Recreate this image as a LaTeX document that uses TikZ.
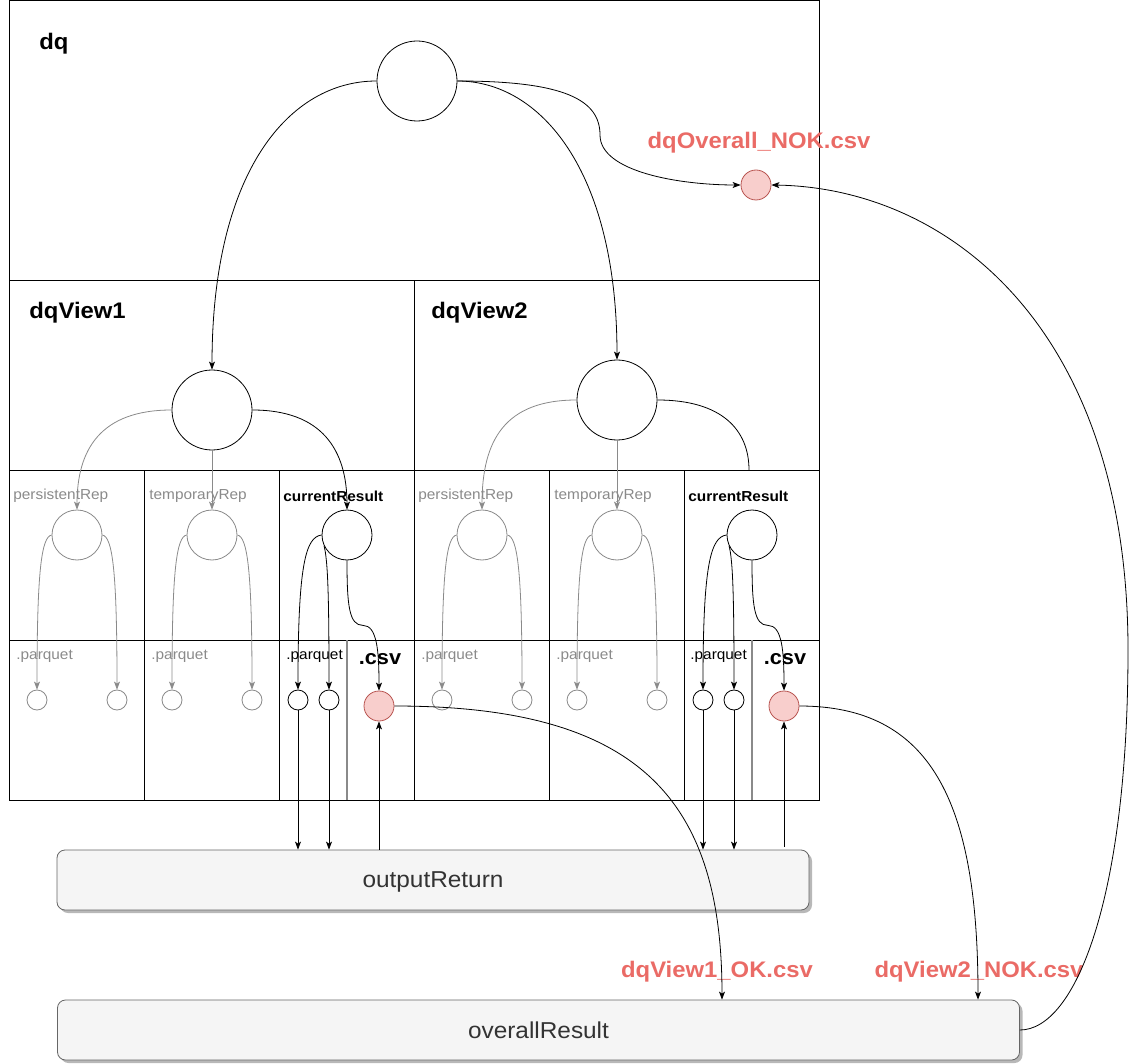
\documentclass[tikz,border=0pt]{standalone}
\usepackage{fontspec}
\setmainfont[FakeStretch=1.06]{Liberation Sans}
\usetikzlibrary{arrows.meta,shadows}
\definecolor{redtxt}{HTML}{EA6B66}
\definecolor{redfill}{HTML}{F8CECC}
\definecolor{redline}{HTML}{B85450}
\definecolor{greyc}{HTML}{8A8A8A}
\definecolor{boxfill}{HTML}{F5F5F5}
\definecolor{boxline}{HTML}{666666}
\definecolor{boxtxt}{HTML}{333333}
\begin{document}
\begin{tikzpicture}[x=1pt,y=-1pt,line width=0.8pt,
  >={Stealth[length=8pt,width=6pt,inset=2pt]},
  title/.style={font=\fontsize{22.5}{26}\selectfont\bfseries,anchor=west,inner sep=0pt},
  smalltxt/.style={font=\fontsize{14.5}{17}\selectfont,anchor=west,inner sep=0pt},
  greytxt/.style={smalltxt,text=greyc},
  boldsmall/.style={smalltxt,font=\fontsize{14.5}{17}\selectfont\bfseries},
  csvtxt/.style={font=\fontsize{20.5}{24}\selectfont\bfseries,inner sep=0pt},
  redlabel/.style={font=\fontsize{22.5}{26}\selectfont\bfseries,text=redtxt,inner sep=0pt},
  bigc/.style={circle,draw,minimum size=80pt,inner sep=0pt},
  midc/.style={circle,draw,minimum size=50pt,inner sep=0pt},
  midg/.style={midc,draw=greyc},
  tinyc/.style={circle,draw,minimum size=20pt,inner sep=0pt},
  tinyg/.style={tinyc,draw=greyc},
  redc/.style={circle,draw=redline,fill=redfill,minimum size=30pt,inner sep=0pt},
  gline/.style={draw=greyc},
  resultbox/.style={rounded corners=8pt,draw=boxline,fill=boxfill,minimum height=60pt,
     text=boxtxt,font=\fontsize{23}{27}\selectfont,text depth=0pt,
     drop shadow={shadow xshift=3pt,shadow yshift=-3pt,fill=black!28,opacity=1}}
]
\useasboundingbox (0,0) rectangle (1130,1064);

% containers
\draw (9,0.5) rectangle (819,280);
\draw (9,280) rectangle (414,470);
\draw (414,280) rectangle (819,470);
\foreach \xx in {9,144,279,414,549,684}{
  \draw (\xx,470) rectangle (\xx+135,640);
  \draw (\xx,640) rectangle (\xx+135,800);
}
\draw[gline,line width=1.4pt] (347,640) -- (347,800);
\draw[gline,line width=1.4pt] (752,640) -- (752,800);

% titles
\node[title] (ldq) at (39,44) {dq};
\node[title] (lv1) at (29,313) {dqView1};
\node[title] (lv2) at (431,313) {dqView2};

\node[greytxt] (lp1) at (13,496) {persistentRep};
\node[greytxt] (lt1) at (149,496) {temporaryRep};
\node[boldsmall] (lc1) at (283,496) {currentResult};
\node[greytxt] (lp2) at (418,496) {persistentRep};
\node[greytxt] (lt2) at (554,496) {temporaryRep};
\node[boldsmall] (lc2) at (688,496) {currentResult};

\node[greytxt] (lq1) at (16,656) {.parquet};
\node[greytxt] (lq2) at (151,656) {.parquet};
\node[smalltxt] (lq3) at (286,656) {.parquet};
\node[greytxt] (lq4) at (421,656) {.parquet};
\node[greytxt] (lq5) at (556,656) {.parquet};
\node[smalltxt] (lq6) at (690,656) {.parquet};
\node[csvtxt] (lcsv1) at (380,659) {.csv};
\node[csvtxt] (lcsv2) at (785,659) {.csv};

\node[redlabel] (lov) at (759,143) {dqOverall\_NOK.csv};
\node[redlabel] (lok1) at (717,972) {dqView1\_OK.csv};
\node[redlabel] (lnok2) at (979,972) {dqView2\_NOK.csv};

% circles
\node[bigc] (T) at (417,81) {};
\node[bigc] (V1) at (212,410) {};
\node[bigc] (V2) at (617,400) {};
\node[redc] (OV) at (756,185) {};

\node[midg] (p1) at (77,535) {};
\node[midg] (t1) at (212,535) {};
\node[midc] (c1) at (347,535) {};
\node[midg] (p2) at (482,535) {};
\node[midg] (t2) at (617,535) {};
\node[midc] (c2) at (752,535) {};

\node[tinyg] (p1a) at (37,700) {};
\node[tinyg] (p1b) at (117,700) {};
\node[tinyg] (t1a) at (172,700) {};
\node[tinyg] (t1b) at (252,700) {};
\node[tinyc] (c1a) at (298,700) {};
\node[tinyc] (c1b) at (329,700) {};
\node[redc] (r1) at (379,706) {};
\node[tinyg] (p2a) at (442,700) {};
\node[tinyg] (p2b) at (522,700) {};
\node[tinyg] (t2a) at (577,700) {};
\node[tinyg] (t2b) at (657,700) {};
\node[tinyc] (c2a) at (703,700) {};
\node[tinyc] (c2b) at (734,700) {};
\node[redc] (r2) at (784,706) {};

% result boxes
\node[resultbox,minimum width=752pt] (OUT) at (433,880) {outputReturn};
\node[resultbox,minimum width=962pt] (OR) at (538.5,1030) {overallResult};

% top connectors
\draw[->] (T.west) .. controls (290,81) and (212,170) .. (V1.north);
\draw[->] (T.east) .. controls (540,81) and (617,170) .. (V2.north);
\draw[->] (T.east) .. controls (565,81) and (600,100) .. (600,135)
   .. controls (600,172) and (680,185) .. (OV.west);
\draw[->] (OR.east) .. controls (1075,1030) and (1128,900) .. (1128,650)
   .. controls (1128,330) and (950,188) .. (OV.east);

% view connectors
\coordinate (cr2top) at (749,470);
\draw[gline,->] (V1.west) .. controls (100,410) and (77,450) .. (p1.north);
\draw[gline,->] (V1.south) -- (t1.north);
\draw[->] (V1.east) .. controls (322,410) and (347,450) .. (c1.north);
\draw[gline,->] (V2.west) .. controls (505,400) and (482,440) .. (p2.north);
\draw[gline,->] (V2.south) -- (t2.north);
\draw (V2.east) .. controls (722,400) and (749,430) .. (cr2top);

% mid circles to small circles
\foreach \m/\a/\b in {p1/p1a/p1b,t1/t1a/t1b,p2/p2a/p2b,t2/t2a/t2b}{
  \draw[gline,->] (\m.west) .. controls +(-10,2) and +(0,-120) .. (\a.north);
  \draw[gline,->] (\m.east) .. controls +(10,2) and +(0,-120) .. (\b.north);
}
\foreach \m/\a/\b/\r in {c1/c1a/c1b/r1,c2/c2a/c2b/r2}{
  \draw[->] (\m.west) .. controls +(-16,2) and +(0,-125) .. (\a.north);
  \draw[->] (\m.205) .. controls +(4,14) and +(0,-90) .. (\b.north);
  \draw[->] (\m.south) .. controls +(0,45) and +(-14,0) .. ++(16,65)
     .. controls +(14,0) and +(0,-40) .. (\r.north);
  \draw[->] (\a.south) -- (\a.south |- OUT.north);
  \draw[->] (\b.south) -- (\b.south |- OUT.north);
}
\draw[->] (r1.south |- OUT.north) -- (r1.south);
\draw[->] ([yshift=3pt]r2.south |- OUT.north) -- (r2.south);

% csv to overall
\draw[->] (r1.east) .. controls (640,706) and (722,800) .. (722,0 |- OR.north);
\draw[->] (r2.east) .. controls (930,706) and (978,800) .. (978,0 |- OR.north);
\end{tikzpicture}
\end{document}
